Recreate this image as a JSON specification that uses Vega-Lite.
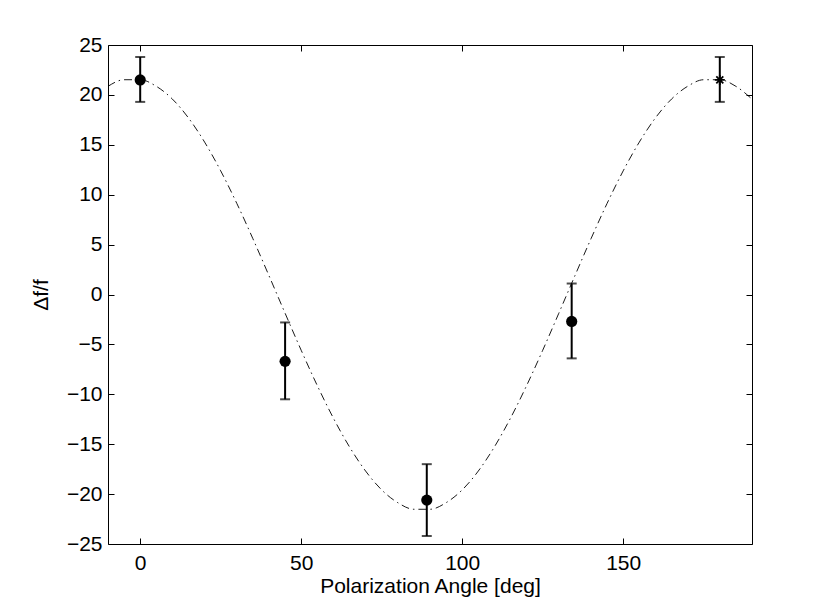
{
  "$schema": "https://vega.github.io/schema/vega-lite/v6.json",
  "width": 644,
  "height": 499,
  "autosize": "none",
  "padding": {"left": 108, "top": 45, "right": 78, "bottom": 68},
  "background": "white",
  "datasets": {
    "curve": [
      {"angle": -10, "fit": 20.86}, {"angle": -5, "fit": 21.52}, {"angle": 0, "fit": 21.52},
      {"angle": 5, "fit": 20.86}, {"angle": 10, "fit": 19.58}, {"angle": 15, "fit": 17.69},
      {"angle": 20, "fit": 15.27}, {"angle": 25, "fit": 12.39}, {"angle": 30, "fit": 9.13},
      {"angle": 35, "fit": 5.59}, {"angle": 40, "fit": 1.88}, {"angle": 45, "fit": -1.88},
      {"angle": 50, "fit": -5.59}, {"angle": 55, "fit": -9.13}, {"angle": 60, "fit": -12.39},
      {"angle": 65, "fit": -15.27}, {"angle": 70, "fit": -17.69}, {"angle": 75, "fit": -19.58},
      {"angle": 80, "fit": -20.86}, {"angle": 85, "fit": -21.52}, {"angle": 90, "fit": -21.52},
      {"angle": 95, "fit": -20.86}, {"angle": 100, "fit": -19.58}, {"angle": 105, "fit": -17.69},
      {"angle": 110, "fit": -15.27}, {"angle": 115, "fit": -12.39}, {"angle": 120, "fit": -9.13},
      {"angle": 125, "fit": -5.59}, {"angle": 130, "fit": -1.88}, {"angle": 135, "fit": 1.88},
      {"angle": 140, "fit": 5.59}, {"angle": 145, "fit": 9.13}, {"angle": 150, "fit": 12.39},
      {"angle": 155, "fit": 15.27}, {"angle": 160, "fit": 17.69}, {"angle": 165, "fit": 19.58},
      {"angle": 170, "fit": 20.86}, {"angle": 175, "fit": 21.52}, {"angle": 180, "fit": 21.52},
      {"angle": 185, "fit": 20.86}, {"angle": 190, "fit": 19.58}
    ],
    "obs": [
      {"angle": 0, "df": 21.5, "lo": 19.3, "hi": 23.8, "marker": "dot"},
      {"angle": 45, "df": -6.7, "lo": -10.5, "hi": -2.8, "marker": "dot"},
      {"angle": 89, "df": -20.6, "lo": -24.2, "hi": -17.0, "marker": "dot"},
      {"angle": 134, "df": -2.7, "lo": -6.4, "hi": 1.1, "marker": "dot"},
      {"angle": 180, "df": 21.5, "lo": 19.3, "hi": 23.8, "marker": "star"}
    ]
  },
  "layer": [
    {
      "data": {"name": "curve"},
      "mark": {"type": "line", "interpolate": "monotone", "color": "black", "strokeWidth": 0.9, "strokeDash": [8, 4, 1.5, 4]},
      "encoding": {
        "x": {
          "field": "angle", "type": "quantitative",
          "scale": {"domain": [-10, 190], "nice": false, "zero": false},
          "axis": {"orient": "bottom", "values": [0, 50, 100, 150], "title": "Polarization Angle [deg]", "titlePadding": 2}
        },
        "y": {
          "field": "fit", "type": "quantitative",
          "scale": {"domain": [-25, 25], "nice": false, "zero": false},
          "axis": {"orient": "left", "values": [-25, -20, -15, -10, -5, 0, 5, 10, 15, 20, 25], "title": "Δf/f", "titlePadding": 15}
        }
      }
    },
    {
      "data": {"name": "obs"},
      "mark": {"type": "errorbar", "ticks": {"size": 10}, "thickness": 2, "color": "black"},
      "encoding": {
        "x": {"field": "angle", "type": "quantitative", "axis": null},
        "y": {"field": "lo", "type": "quantitative", "axis": null},
        "y2": {"field": "hi"}
      }
    },
    {
      "data": {"name": "obs"},
      "transform": [{"filter": "datum.marker === 'dot'"}],
      "mark": {"type": "point", "shape": "circle", "filled": true, "color": "black", "opacity": 1, "size": 125},
      "encoding": {
        "x": {"field": "angle", "type": "quantitative", "axis": null},
        "y": {"field": "df", "type": "quantitative", "axis": null}
      }
    },
    {
      "data": {"name": "obs"},
      "transform": [{"filter": "datum.marker === 'star'"}],
      "mark": {
        "type": "point",
        "shape": "M-1,0L1,0M0,-1L0,1M-0.7,-0.7L0.7,0.7M-0.7,0.7L0.7,-0.7",
        "filled": false, "color": "black", "opacity": 1, "strokeWidth": 1.8, "size": 100
      },
      "encoding": {
        "x": {
          "field": "angle", "type": "quantitative",
          "axis": {"orient": "top", "values": [0, 50, 100, 150], "labels": false, "title": null}
        },
        "y": {
          "field": "df", "type": "quantitative",
          "axis": {"orient": "right", "values": [-25, -20, -15, -10, -5, 0, 5, 10, 15, 20, 25], "labels": false, "title": null}
        }
      }
    }
  ],
  "resolve": {"axis": {"x": "independent", "y": "independent"}},
  "config": {
    "font": "Liberation Sans",
    "view": {"stroke": null},
    "axis": {
      "grid": false,
      "domainColor": "black",
      "domainWidth": 1,
      "tickColor": "black",
      "tickSize": -6,
      "tickWidth": 1,
      "labelFont": "Liberation Sans",
      "labelFontSize": 21,
      "labelColor": "black",
      "titleFont": "Liberation Sans",
      "titleFontSize": 21,
      "titleFontWeight": "normal",
      "titleColor": "black"
    },
    "axisBottom": {"labelPadding": 14},
    "axisLeft": {"labelPadding": 12}
  }
}
